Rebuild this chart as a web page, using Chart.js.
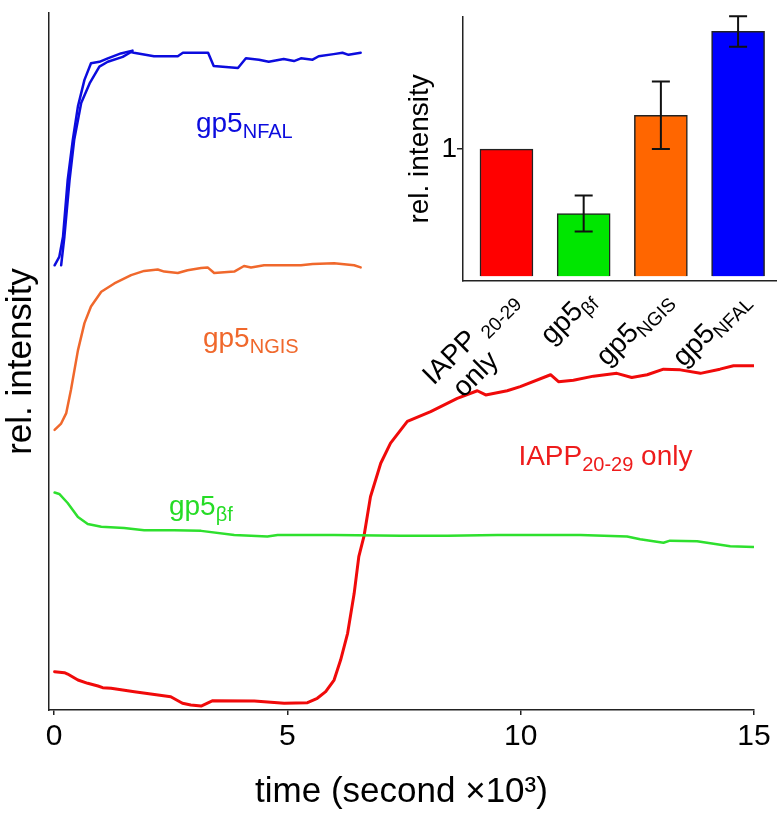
<!DOCTYPE html>
<html><head><meta charset="utf-8">
<script src="https://cdn.jsdelivr.net/npm/chart.js@4.4.0/dist/chart.umd.min.js"></script>
<style>
html,body{margin:0;padding:0;background:#fff;}
#wrap{position:relative;width:777px;height:813px;background:#fff;}
canvas{position:absolute;left:0;top:0;}
</style></head><body>
<div id="wrap"><canvas id="main" width="777" height="813"></canvas><canvas id="inset" width="777" height="813"></canvas></div>
<script>
const FONT = '"Liberation Sans", Arial, Helvetica, sans-serif';

// ---- main chart data (time in 10^3 s, relative intensity in arbitrary units) ----
const xTicks = [0, 5, 10, 15];

const nfalA_x = [0.01,0.11,0.19,0.29,0.40,0.51,0.65,0.79,0.97,1.15,1.43,1.68];
const nfalA_y = [63.8,65.0,67.9,76.0,81.8,86.6,90.4,92.8,93.0,93.5,94.2,94.6];

const nfalB_x = [0.15,0.22,0.33,0.43,0.58,0.76,0.97,1.15,1.47,1.65,1.71,2.14,2.65,2.76,3.30,3.42,3.94,4.11,4.39,4.60,4.92,5.14,5.29,5.54,5.67,5.99,6.18,6.31,6.57];
const nfalB_y = [63.8,67.9,76.0,81.8,87.1,89.9,92.3,93.0,93.7,94.4,94.3,93.8,93.8,94.3,94.3,92.4,92.1,93.5,93.3,93.0,93.4,93.1,93.5,93.3,93.8,94.1,94.3,94.0,94.3];

const ngis_x = [0.01,0.15,0.26,0.36,0.51,0.65,0.79,1.01,1.29,1.65,1.93,2.22,2.36,2.65,2.86,3.15,3.29,3.43,3.86,4.07,4.22,4.50,5.29,5.54,6.00,6.43,6.57];
const ngis_y = [40.2,41.1,42.6,45.9,51.6,55.5,57.9,60.0,61.2,62.4,63.0,63.2,62.9,62.7,63.1,63.4,63.5,62.7,62.9,63.7,63.5,63.8,63.8,64.0,64.1,63.8,63.5];

const bf_x = [0.01,0.11,0.29,0.51,0.72,1.01,1.50,1.93,2.57,3.15,3.86,4.22,4.57,4.79,6.00,7.43,8.43,9.50,11.28,12.28,12.56,13.06,13.20,13.78,14.49,14.99];
const bf_y = [31.2,31.0,29.7,27.7,26.7,26.3,26.1,25.8,25.8,25.7,25.1,25.0,24.9,25.1,25.1,25.0,25.0,25.1,25.1,24.9,24.5,24.0,24.3,24.2,23.5,23.4];

const iapp_x = [0.01,0.22,0.29,0.51,0.72,0.94,1.04,1.22,1.72,2.50,2.75,2.93,3.15,3.40,4.29,4.93,5.43,5.64,5.82,6.00,6.14,6.29,6.43,6.53,6.64,6.78,7.00,7.21,7.57,8.07,8.64,9.07,9.25,9.71,9.99,10.64,10.81,11.13,11.56,12.06,12.38,12.71,13.06,13.42,13.85,14.27,14.56,14.99];
const iapp_y = [5.5,5.35,5.16,4.3,3.83,3.44,3.2,3.11,2.63,1.91,0.96,0.72,0.57,1.33,1.29,0.96,1.05,1.68,2.63,4.3,7.17,11.0,16.7,22.0,24.9,30.6,35.4,38.3,41.4,42.8,44.7,45.8,45.2,45.8,46.4,48.1,47.1,47.3,47.9,48.3,47.7,48.1,48.9,48.8,48.3,48.9,49.4,49.4];

// curve annotations (placed in data coordinates)
const annotMain = ['gp5', 'gp5', 'gp5', 'IAPP'];
const annotSub  = ['NFAL', 'NGIS', 'βf', '20-29'];
const annotTail = ['', '', '', ' only'];
const annotX    = [3.04, 3.19, 2.46, 9.95];
const annotY    = [82.9, 52.1, 28.0, 35.2];

// ---- inset bar chart data ----
const barMain   = ['IAPP', 'gp5', 'gp5', 'gp5'];
const barSub    = ['20-29', 'βf', 'NGIS', 'NFAL'];
const barLine2  = ['only', '', '', ''];
const barValues = [1.0, 0.494, 1.266, 1.925];
const barErrors = [0, 0.142, 0.266, 0.12];
const insetTicks = [1];

// ---- styling ----
const LINE_BLUE = '#0C0CDE', LINE_ORANGE = '#F0682C', LINE_GREEN = '#2EE02E', LINE_RED = '#F00A0A';
const BAR_COLORS = ['#FF0000', '#00E600', '#FF6600', '#0000FF'];
const annotColors = [LINE_BLUE, LINE_ORANGE, '#26DC26', '#EE1C1C'];

function pts(xs, ys){ return xs.map((x,i)=>({x:x, y:ys[i]})); }

function drawParts(ctx, parts, x, y){
  let cx = x;
  for (const p of parts){
    ctx.font = p.size + 'px ' + FONT;
    ctx.fillText(p.t, cx, y + p.dy);
    cx += ctx.measureText(p.t).width;
  }
  return cx;
}
function partsWidth(ctx, parts){
  let w = 0;
  for (const p of parts){ ctx.font = p.size + 'px ' + FONT; w += ctx.measureText(p.t).width; }
  return w;
}

const annotPlugin = {
  id: 'annot',
  afterDraw(chart){
    const ctx = chart.ctx, xs = chart.scales.x, ys = chart.scales.y;
    ctx.save();
    ctx.textBaseline = 'alphabetic';
    ctx.textAlign = 'left';
    for (let i = 0; i < annotMain.length; i++){
      ctx.fillStyle = annotColors[i];
      const px = xs.getPixelForValue(annotX[i]), py = ys.getPixelForValue(annotY[i]);
      const parts = [{t: annotMain[i], size: 28, dy: 0}, {t: annotSub[i], size: 20, dy: 6}];
      if (annotTail[i]) parts.push({t: annotTail[i], size: 28, dy: 0});
      drawParts(ctx, parts, px, py);
    }
    ctx.restore();
  }
};

new Chart(document.getElementById('main'), {
  type: 'line',
  data: { datasets: [
    { label: 'gp5NFAL (run 1)', data: pts(nfalA_x, nfalA_y), borderColor: LINE_BLUE, borderWidth: 2.5 },
    { label: 'gp5NFAL (run 2)', data: pts(nfalB_x, nfalB_y), borderColor: LINE_BLUE, borderWidth: 2.5 },
    { label: 'gp5NGIS', data: pts(ngis_x, ngis_y), borderColor: LINE_ORANGE, borderWidth: 2.5 },
    { label: 'gp5βf', data: pts(bf_x, bf_y), borderColor: LINE_GREEN, borderWidth: 2.5 },
    { label: 'IAPP20-29 only', data: pts(iapp_x, iapp_y), borderColor: LINE_RED, borderWidth: 3 }
  ]},
  options: {
    responsive: false, animation: false, devicePixelRatio: 1,
    layout: { padding: { top: 13, right: 23, left: 0, bottom: 0 } },
    plugins: { legend: { display: false }, tooltip: { enabled: false } },
    elements: { point: { radius: 0 }, line: { tension: 0, borderJoinStyle: 'round', borderCapStyle: 'round', fill: false } },
    scales: {
      x: {
        type: 'linear', min: -0.11, max: 15,
        afterBuildTicks: s => { s.ticks = xTicks.map(v => ({ value: v })); },
        afterFit: s => { s.height = 103; },
        grid: { display: true, drawOnChartArea: false, drawTicks: true, tickLength: 5, color: '#222', lineWidth: 1.5 },
        border: { display: true, color: '#222', width: 1.5 },
        ticks: { font: { family: FONT, size: 30 }, color: '#000', padding: 4, maxRotation: 0, autoSkip: false },
        title: { display: true, text: 'time (second ×10³)', font: { family: FONT, size: 35 }, color: '#000', padding: 0 }
      },
      y: {
        type: 'linear', min: 0, max: 100,
        afterFit: s => { s.width = 49; },
        grid: { display: false },
        border: { display: true, color: '#222', width: 1.5 },
        ticks: { display: false },
        title: { display: true, text: 'rel. intensity', font: { family: FONT, size: 35 }, color: '#000', padding: 0 }
      }
    }
  },
  plugins: [annotPlugin]
});

const insetPlugin = {
  id: 'insetDeco',
  afterDatasetsDraw(chart){
    const ctx = chart.ctx, xs = chart.scales.x, ys = chart.scales.y, ca = chart.chartArea;
    ctx.save();
    // error bars
    ctx.strokeStyle = '#111'; ctx.lineWidth = 2;
    for (let i = 0; i < barValues.length; i++){
      if (!barErrors[i]) continue;
      const x = xs.getPixelForValue(i);
      const yt = ys.getPixelForValue(barValues[i] + barErrors[i]);
      const yb = ys.getPixelForValue(barValues[i] - barErrors[i]);
      ctx.beginPath();
      ctx.moveTo(x, yt); ctx.lineTo(x, yb);
      ctx.moveTo(x - 9, yt); ctx.lineTo(x + 9, yt);
      ctx.moveTo(x - 9, yb); ctx.lineTo(x + 9, yb);
      ctx.stroke();
    }
    // rotated category labels with subscripts
    ctx.fillStyle = '#000';
    ctx.textBaseline = 'alphabetic'; ctx.textAlign = 'left';
    for (let i = 0; i < barMain.length; i++){
      const ax = xs.getPixelForValue(i) + 5, ay = ca.bottom + 13;
      const parts = [{t: barMain[i], size: 28, dy: 0}];
      if (barLine2[i]) parts.push({t: ' ', size: 28, dy: 0});
      parts.push({t: barSub[i], size: 19, dy: 6});
      ctx.save();
      ctx.translate(ax, ay);
      ctx.rotate(-Math.PI / 4);
      const W = partsWidth(ctx, parts);
      drawParts(ctx, parts, -W, 10);
      if (barLine2[i]){
        ctx.font = '28px ' + FONT;
        const mainEnd = -W + ctx.measureText(barMain[i]).width;
        const w2 = ctx.measureText(barLine2[i]).width;
        ctx.fillText(barLine2[i], mainEnd - w2, 40);
      }
      ctx.restore();
    }
    // inset y-axis title
    ctx.save();
    ctx.translate(ca.left - 43, (ca.top + ca.bottom) / 2);
    ctx.rotate(-Math.PI / 2);
    ctx.font = '28px ' + FONT;
    ctx.textAlign = 'center'; ctx.textBaseline = 'middle';
    ctx.fillText('rel. intensity', 0, 0);
    ctx.restore();
    ctx.restore();
  }
};

new Chart(document.getElementById('inset'), {
  type: 'bar',
  data: { datasets: [{
    label: 'rel. intensity',
    data: barValues.map((v, i) => ({ x: i, y: v })),
    backgroundColor: BAR_COLORS, borderColor: '#222', borderWidth: 1.5, barThickness: 53
  }]},
  options: {
    responsive: false, animation: false, devicePixelRatio: 1,
    layout: { padding: { top: 4, right: 0, left: 0, bottom: 0 } },
    plugins: { legend: { display: false }, tooltip: { enabled: false } },
    scales: {
      x: {
        type: 'linear', min: -0.563, max: 3.504, offset: false,
        afterFit: s => { s.height = 532; },
        grid: { display: false },
        border: { display: true, color: '#222', width: 1.5 },
        ticks: { display: false }
      },
      y: {
        type: 'linear', min: -0.037, max: 2.04,
        afterBuildTicks: s => { s.ticks = insetTicks.map(v => ({ value: v })); },
        afterFit: s => { s.width = 463; },
        grid: { display: true, drawOnChartArea: false, drawTicks: true, tickLength: 6, color: '#222', lineWidth: 1.5 },
        border: { display: true, color: '#222', width: 1.5 },
        ticks: { font: { family: FONT, size: 28 }, color: '#000', padding: 0 }
      }
    }
  },
  plugins: [insetPlugin]
});
</script>
</body></html>
